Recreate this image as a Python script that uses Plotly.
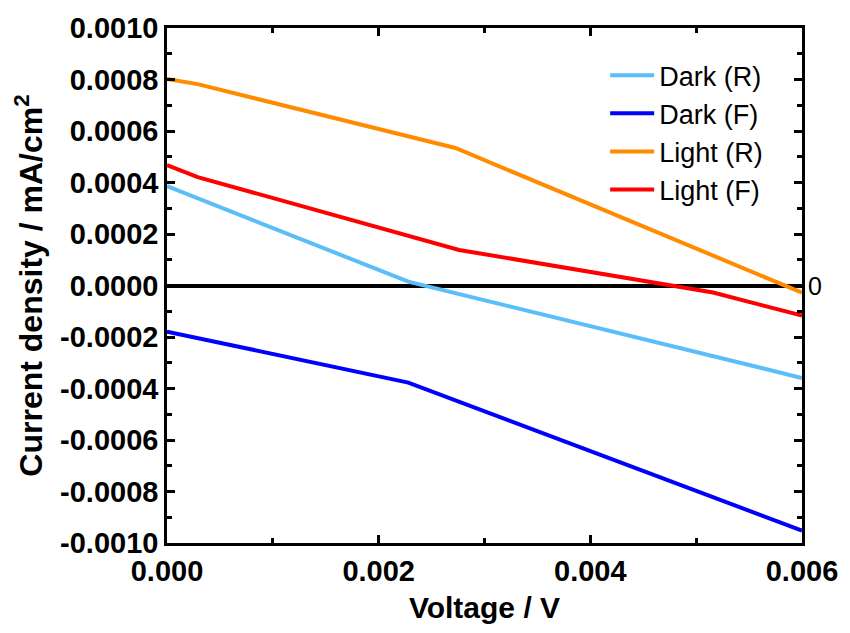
import plotly.graph_objects as go

# Data
dark_r_v = [0.0, 0.00228, 0.006]
dark_r_j = [0.000386, 0.000015, -0.000359]

dark_f_v = [0.0, 0.00228, 0.006]
dark_f_j = [-0.000179, -0.000377, -0.000952]

light_r_v = [0.0, 0.00029, 0.002725, 0.006]
light_r_j = [0.000802, 0.000782, 0.000534, -0.000028]

light_f_v = [0.0, 0.00029, 0.00276, 0.00516, 0.006]
light_f_j = [0.000468, 0.000421, 0.000138, -0.000027, -0.000117]

series = [
    ("Dark (R)", dark_r_v, dark_r_j, "rgb(90,190,248)"),
    ("Dark (F)", dark_f_v, dark_f_j, "rgb(0,0,255)"),
    ("Light (R)", light_r_v, light_r_j, "rgb(255,140,0)"),
    ("Light (F)", light_f_v, light_f_j, "rgb(255,0,0)"),
]

x_ticks = [0.0, 0.002, 0.004, 0.006]
x_tick_labels = ["0.000", "0.002", "0.004", "0.006"]
y_ticks = [-0.0010, -0.0008, -0.0006, -0.0004, -0.0002, 0.0, 0.0002, 0.0004, 0.0006, 0.0008, 0.0010]
y_tick_labels = ["-0.0010", "-0.0008", "-0.0006", "-0.0004", "-0.0002", "0.0000",
                 "0.0002", "0.0004", "0.0006", "0.0008", "0.0010"]

fig = go.Figure()
for name, v, j, c in series:
    fig.add_trace(go.Scatter(x=v, y=j, mode="lines", name=name,
                             line=dict(color=c, width=4)))

tickfont = dict(family="Liberation Sans, Arial", size=29, color="black")
axis_common = dict(
    showline=True, linecolor="black", linewidth=2.5, mirror="allticks",
    ticks="inside", ticklen=8, tickwidth=2.5, tickcolor="black",
    showgrid=False, tickfont=tickfont,
)

fig.update_layout(
    width=850, height=633,
    margin=dict(l=167, r=43, t=28, b=90),
    paper_bgcolor="white", plot_bgcolor="white",
    font=dict(family="Liberation Sans, Arial", color="black"),
    xaxis=dict(
        range=[0, 0.006], tickvals=x_ticks,
        ticktext=["<b>%s</b>" % t for t in x_tick_labels],
        zeroline=False,
        minor=dict(ticks="inside", ticklen=5, tickwidth=2.5, tickcolor="black", dtick=0.001),
        title=dict(text="<b>Voltage / V</b>", font=dict(size=30), standoff=12),
        **axis_common,
    ),
    yaxis=dict(
        range=[-0.0010, 0.0010], tickvals=y_ticks,
        ticktext=["<b>%s</b>" % t for t in y_tick_labels],
        zeroline=True, zerolinecolor="black", zerolinewidth=4,
        minor=dict(ticks="inside", ticklen=5, tickwidth=2.5, tickcolor="black", dtick=0.0001),
        title=dict(text="<b>Current density / mA/cm<sup>2</sup></b>", font=dict(size=32), standoff=8),
        **axis_common,
    ),
    legend=dict(
        x=0.69, y=0.955, xanchor="left", yanchor="top",
        bgcolor="rgba(0,0,0,0)", borderwidth=0,
        font=dict(size=27, color="black"),
        tracegroupgap=0, itemwidth=44,
    ),
    showlegend=True,
)

fig.add_annotation(x=1.0, y=0, xref="paper", yref="y", text="0", showarrow=False,
                   xanchor="left", yanchor="middle", xshift=4,
                   font=dict(size=25, color="black"))

fig.write_html("out.html")
